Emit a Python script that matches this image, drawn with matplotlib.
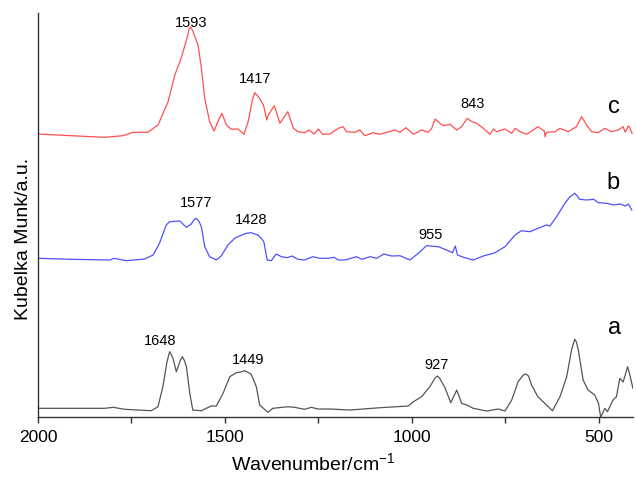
import matplotlib
matplotlib.use("Agg")
import matplotlib.pyplot as plt

plt.rcParams['font.family'] = ['Liberation Sans', 'DejaVu Sans']

# spectrum c (red)
wn_c = [2000, 1912, 1822, 1773, 1746, 1706, 1679, 1652, 1634, 1617, 1599, 1596, 1592,
        1586, 1580, 1572, 1564, 1554, 1541, 1529, 1519, 1508, 1496, 1483, 1465, 1449,
        1438, 1426, 1420, 1410, 1397, 1388, 1384, 1368, 1353, 1332, 1317, 1304, 1286,
        1275, 1262, 1250, 1239, 1219, 1197, 1184, 1175, 1152, 1139, 1126, 1103, 1085,
        1068, 1045, 1032, 1016, 996, 974, 956, 947, 938, 925, 916, 898, 880, 867,
        852, 840, 827, 809, 791, 782, 773, 751, 733, 724, 711, 693, 676, 663,
        646, 644, 640, 617, 604, 582, 560, 546, 533, 519, 502, 484, 466, 448,
        440, 435, 430, 426, 422, 417, 414, 411]
ku_c = [283, 281.3, 279.7, 281.3, 284.7, 284.7, 292, 315.3, 342, 358.7, 382, 388, 390.3,
        386, 380, 372, 352, 319, 295.3, 286, 295.3, 303.7, 292, 287.7, 288, 282.7,
        295.3, 318, 324.3, 320, 312, 297, 302, 311.3, 293.7, 305.3, 288.7, 285.3, 284.3,
        287, 283, 288, 282.7, 283, 288.7, 290.3, 285.3, 284.7, 287, 281.3, 284.3, 282.7,
        284.7, 287, 284.7, 289.3, 282.7, 287, 284.7, 288.7, 298, 293.7, 291.3, 292.7,
        287, 290.3, 298.7, 295.3, 293.7, 288.7, 282.7, 288, 285.3, 288, 283.7, 288.7,
        285.3, 282.7, 287, 290.3, 286, 280.3, 284.7, 285.3, 288.7, 285.3, 290.3, 300.3,
        292, 285.3, 284.3, 288.7, 285.3, 287, 289, 290.3, 285, 287, 291, 289.3, 286,
        283.7]

# spectrum b (blue)
wn_b = [2000, 1911, 1808, 1797, 1782, 1764, 1715, 1692, 1675, 1657, 1648, 1621,
        1603, 1590, 1582, 1577, 1570, 1563, 1554, 1541, 1523, 1510, 1492, 1474, 1461,
        1445, 1430, 1412, 1403, 1396, 1387, 1376, 1363, 1349, 1333, 1321, 1305, 1287,
        1265, 1247, 1224, 1208, 1197, 1179, 1148, 1134, 1112, 1094, 1075, 1054, 1032,
        1005, 983, 961, 929, 903, 891, 884, 878, 862, 836, 809, 778, 751, 724,
        707, 684, 663, 640, 631, 613, 591, 577, 564, 551, 533, 514, 501, 479,
        461, 443, 429, 421, 412]
ku_b = [158.7, 157.7, 157, 158.7, 157.7, 156.3, 158, 162, 173.7, 192, 195.3, 196,
        189.7, 193, 197.5, 198.7, 196, 190.3, 170.3, 160.3, 157, 161, 172, 178.7, 181,
        183.5, 184.3, 182, 178.7, 175.3, 157, 156.3, 163, 160.3, 159.3, 161, 157.7, 157,
        160.3, 158.7, 158.7, 159.7, 157, 157, 160.3, 157.7, 160.3, 158.7, 163, 161, 161.3,
        157, 163.7, 171.3, 170.3, 166.3, 164.3, 171, 162, 159.7, 157, 161, 164.3,
        170.3, 182, 186.3, 185.3, 188.7, 192, 191, 200.3, 213.7, 220.3, 223.7,
        217.7, 217, 217.7, 214.3, 213.7, 212, 213, 211, 213, 207]

# spectrum a (black)
wn_a = [2000, 1822, 1799, 1768, 1697, 1679, 1666, 1655, 1648, 1643, 1639, 1630,
        1619, 1614, 1609, 1603, 1594, 1586, 1563, 1537, 1523, 1505, 1487, 1470,
        1458, 1447, 1430, 1416, 1407, 1385, 1372, 1331, 1314, 1287, 1269, 1251,
        1219, 1166, 1085, 1010, 996, 974, 952, 938, 932, 926, 912, 896, 880, 867,
        853, 836, 800, 769, 751, 733, 716, 702, 695, 688, 680, 663, 640, 624,
        604, 586, 573, 567, 564, 560, 555, 542, 529, 511, 501, 495, 484, 477,
        462, 453, 444, 435, 423, 417, 409]
ku_a = [8.7, 8.7, 9.7, 7.7, 6.3, 10.3, 30.3, 55, 65.3, 62, 58.7, 45.3,
        57, 60.3, 57, 50.3, 23.7, 7, 6.3, 11, 11, 23.7, 40.3, 44.3,
        45, 46.3, 43, 30.3, 12, 4.7, 8.7, 10.3, 9.7, 7.7, 9.7, 8,
        8, 7, 9.3, 11, 15.3, 20.3, 30.3, 39, 41, 39, 29.7, 14.3, 27, 13.7,
        12, 8.7, 6, 8, 6, 17, 35.3, 42, 43, 41, 32, 20.3, 12, 6.3,
        20.3, 40.3, 67, 75, 77.7, 75, 67, 37, 27, 22, 13.7, -0.3, 8.7, 5.3,
        17, 20.3, 38.7, 35, 50.3, 42, 28.7]

# peak labels: (text, wavenumber, height)
peak_labels = [("1593", 1591, 394), ("1417", 1420, 338), ("843", 838, 313),
               ("1577", 1577, 214), ("1428", 1430, 197), ("955", 950, 182),
               ("1648", 1672, 76), ("1449", 1437, 57), ("927", 934, 52)]
curve_labels = [("c", 459, 310), ("b", 461, 234), ("a", 457, 89)]

fig = plt.figure(figsize=(6.36, 4.79), dpi=100)
ax = fig.add_axes([0.0597, 0.1294, 0.9348, 0.8435])

ax.plot(wn_c, ku_c, color='#ff5050', lw=0.9)
ax.plot(wn_b, ku_b, color='#5050ff', lw=0.9)
ax.plot(wn_a, ku_a, color='#555555', lw=0.9)

for txt, x, y in peak_labels:
    ax.text(x, y, txt, ha='center', va='center', fontsize=10.5)
for txt, x, y in curve_labels:
    ax.text(x, y, txt, ha='center', va='center', fontsize=17)

ax.set_xlim(2000, 410)
ax.set_ylim(0, 404)
ax.set_xticks([2000, 1500, 1000, 500])
ax.set_xticks([1750, 1250, 750], minor=True)
ax.tick_params(axis='x', which='both', direction='out', length=4, width=1,
               color='#333333', labelsize=12.5, pad=5)
ax.set_yticks([])
for side in ('top', 'right'):
    ax.spines[side].set_visible(False)
for side in ('left', 'bottom'):
    ax.spines[side].set_color('#333333')
    ax.spines[side].set_linewidth(1)

ax.set_xlabel(r'Wavenumber/cm$^{\mathregular{-1}}$', fontsize=14)
ax.set_ylabel('Kubelka Munk/a.u.', fontsize=14)
ax.xaxis.set_label_coords(0.4626, -0.087)
ax.yaxis.set_label_coords(-0.010, 0.44)

fig.savefig('out.png', dpi=100)
